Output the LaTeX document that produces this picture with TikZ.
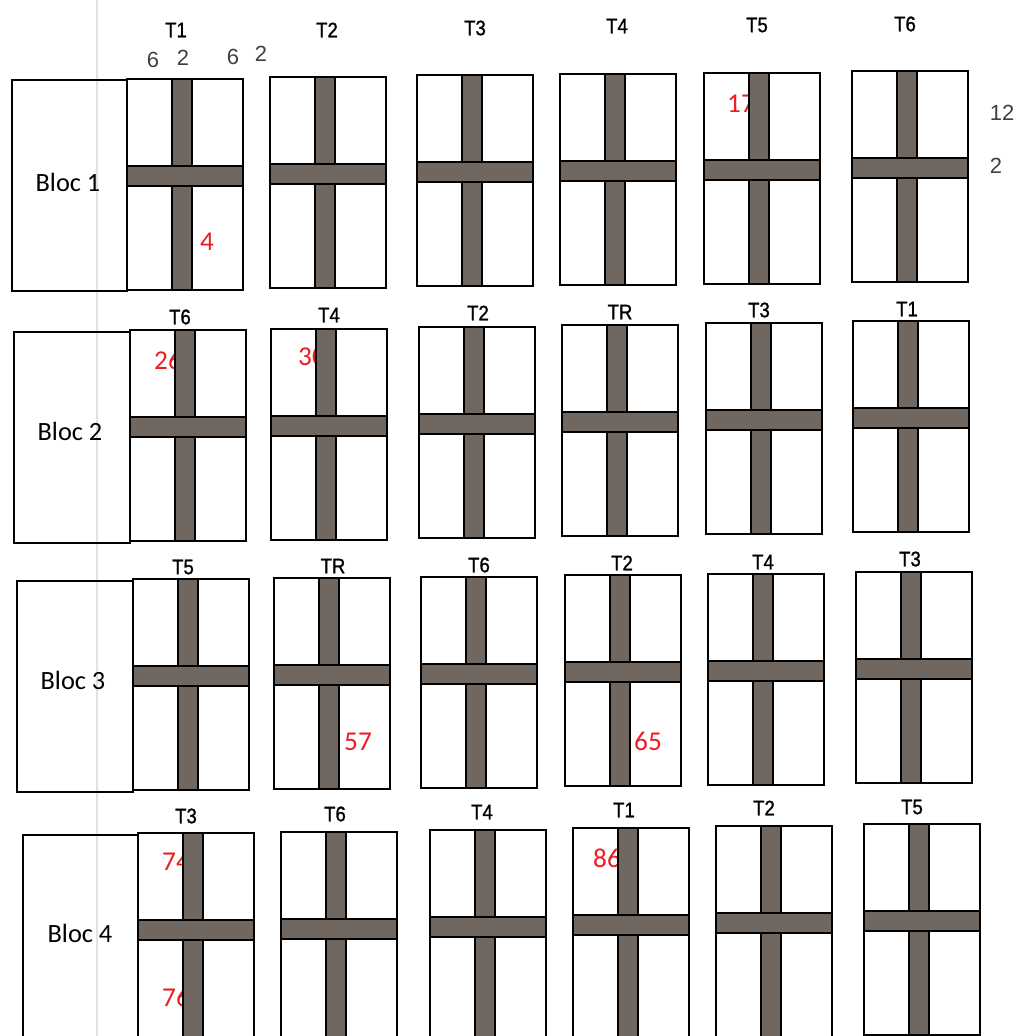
\documentclass[tikz,border=0pt]{standalone}
\usepackage{fontspec}
\newfontfamily\arialfont{Liberation Sans}
\newfontfamily\trfont[FakeStretch=0.88, FakeBold=1.2]{Liberation Sans}
\newfontfamily\calfont{Carlito}
\definecolor{stripbrown}{RGB}{112,104,96}
\definecolor{numred}{RGB}{236,28,36}
\definecolor{scangray}{RGB}{226,226,226}

% plot x / plot top y / treatment / label x / label y
\newcommand{\plotcells}{%
127/79/T1/176/30, 270/77/T2/327/30, 417/75/T3/475/28, 560/74/T4/617/26, 704/73/T5/757/25, 852/71/T6/905/24,
130/330/T6/180/317, 271/329/T4/329/315, 419/327/T2/478/313, 562/325/TR/620/312, 706/323/T3/759/310, 853/321/T1/907/309,
133/579/T5/183/567, 274/578/TR/333/566, 421/577/T6/479/565, 565/575/T2/622/563, 708/574/T4/763/562, 856/572/T3/910/559,
138/833/T3/186/816, 281/832/T6/335/814, 430/830/T4/482/812, 573/828/T1/624/810, 716/826/T2/764/808, 864/824/T5/912/807}

\begin{document}
\begin{tikzpicture}[x=0.02cm, y=-0.02cm,
  plotbox/.style={draw=black, line width=0.9pt},
  strip/.style={draw=black, line width=0.6pt, fill=stripbrown},
  trlabel/.style={font=\trfont\fontsize{12}{14}\selectfont},
  dimlabel/.style={font=\arialfont\fontsize{12.5}{14}\selectfont, text=black!75},
  bloclabel/.style={font=\calfont\fontsize{15}{18}\selectfont},
  plotnum/.style={font=\calfont\fontsize{15.5}{18}\selectfont, text=numred}]
\useasboundingbox (0,0) rectangle (1017,1036);
% scan fold
\draw[scangray, line width=0.8pt] (97,0) -- (97,1036);
% Bloc boxes
\foreach \bx/\by/\w/\lx/\ly [count=\b] in {12/80/115/68/182, 14/332/116/70/431, 17/581/116/73/680, 23/835/115/80/933} {
  \draw[plotbox] (\bx,\by) rectangle ++(\w,211);
  \node[bloclabel] (bloc\b) at (\lx,\ly) {Bloc \b};
}
% Plots and treatment labels
\foreach \x/\y/\t/\lx/\ly [count=\k] in \plotcells {
  \draw[plotbox] (\x,\y) rectangle ++(116,211);
  \node[trlabel] (tr\k) at (\lx,\ly) {\t};
}
% Widths and heights of the strips
\node[dimlabel] (dsix) at (153,60) {6};
\node[dimlabel] (dtwo) at (183,58) {2};
\node[dimlabel] (dsixb) at (233,57) {6};
\node[dimlabel] (dtwob) at (261,54) {2};
\node[dimlabel] (dtwelve) at (1002,113) {12};
\node[dimlabel] (dtwoc) at (996,166) {2};
% Plot numbers
\node[plotnum] (n4) at (207,242) {4};
\node[plotnum] (n17) at (741,104) {17};
\node[plotnum] (n26) at (168,360) {26};
\node[plotnum] (n30) at (312,357) {30};
\node[plotnum] (n57) at (358,742) {57};
\node[plotnum] (n65) at (648,741) {65};
\node[plotnum] (n74) at (176,862) {74};
\node[plotnum] (n76) at (176,997) {76};
\node[plotnum] (n86) at (607,858) {86};
% Paths across the plots
\foreach \x/\y/\t/\lx/\ly in \plotcells {
  \draw[strip] (\x+45,\y) rectangle ++(20,211);
  \draw[strip] (\x,\y+87) rectangle ++(116,20);
}
\end{tikzpicture}
\end{document}
